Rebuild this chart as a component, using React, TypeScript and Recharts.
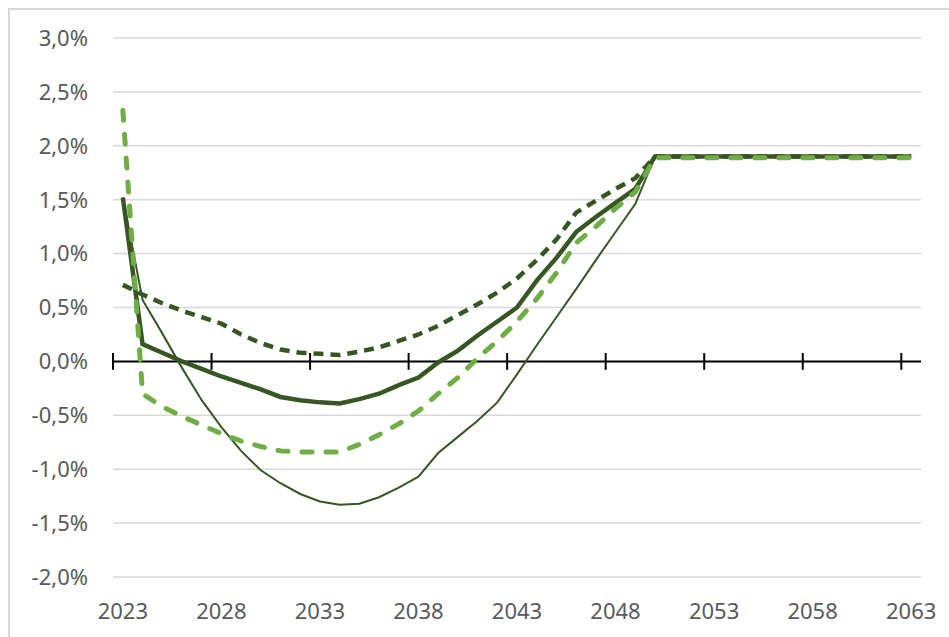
import { LineChart, Line, XAxis, YAxis, CartesianGrid, ReferenceLine } from 'recharts'

const years: number[] = []
for (let y = 2023; y <= 2063; y++) years.push(y)

// valeurs en % (2023 -> 2050), puis plateau jusqu'à 2063
const thickSolid = [1.52, 0.16, 0.08, 0.0, -0.07, -0.14, -0.2, -0.26, -0.33, -0.36, -0.38, -0.39, -0.35, -0.3, -0.22, -0.15, -0.01, 0.1, 0.24, 0.37, 0.5, 0.75, 0.96, 1.2, 1.34, 1.47, 1.6, 1.9, 1.9, 1.9, 1.9, 1.9, 1.9, 1.9, 1.9, 1.9, 1.9, 1.9, 1.9, 1.9, 1.9]
const thinSolid = [1.52, 0.57, 0.26, -0.06, -0.36, -0.61, -0.83, -1.01, -1.13, -1.23, -1.3, -1.33, -1.32, -1.26, -1.17, -1.07, -0.85, -0.7, -0.55, -0.38, -0.12, 0.15, 0.41, 0.67, 0.94, 1.2, 1.46, 1.9, 1.9, 1.9, 1.9, 1.9, 1.9, 1.9, 1.9, 1.9, 1.9, 1.9, 1.9, 1.9, 1.9]
const darkDashed = [0.71, 0.62, 0.54, 0.47, 0.41, 0.35, 0.25, 0.17, 0.11, 0.08, 0.07, 0.06, 0.09, 0.13, 0.19, 0.25, 0.33, 0.43, 0.53, 0.64, 0.77, 0.94, 1.13, 1.38, 1.49, 1.6, 1.7, 1.9, 1.9, 1.9, 1.9, 1.9, 1.9, 1.9, 1.9, 1.9, 1.9, 1.9, 1.9, 1.9, 1.9]
const lightDashed = [2.33, -0.3, -0.42, -0.51, -0.59, -0.67, -0.74, -0.79, -0.83, -0.84, -0.84, -0.84, -0.77, -0.68, -0.58, -0.46, -0.3, -0.15, 0.03, 0.19, 0.37, 0.58, 0.82, 1.1, 1.25, 1.42, 1.57, 1.89, 1.89, 1.89, 1.89, 1.89, 1.89, 1.89, 1.89, 1.89, 1.89, 1.89, 1.89, 1.89, 1.89]

const xLabels = [2023, 2028, 2033, 2038, 2043, 2048, 2053, 2058, 2063]
const axisTicks = [2022.5, 2027.5, 2032.5, 2037.5, 2042.5, 2047.5, 2052.5, 2057.5, 2062.5]
const yTicks = [-2, -1.5, -1, -0.5, 0, 0.5, 1, 1.5, 2, 2.5, 3]

const data = years.map((year, i) => ({
    year,
    a: thickSolid[i],
    b: thinSolid[i],
    c: darkDashed[i],
    d: lightDashed[i]
}))

const dark = '#375623'
const light = '#70ad47'
const tickFont = { fontFamily: '"Noto Sans", sans-serif', fontSize: 22, fill: '#595959' }

function App() {
    return (
        <div style={{ position: 'absolute', left: 0, top: 0, width: 949, height: 637, overflow: 'hidden', background: '#fff' }}>
            <div style={{ position: 'absolute', left: 8, top: 8, width: 980, height: 660, border: '2px solid #d9d9d9' }} />
            <LineChart width={949} height={637} data={data} margin={{ top: 38, right: 28, bottom: 0, left: 0 }}>
                <CartesianGrid vertical={false} stroke="#d9d9d9" strokeWidth={1.5} />
                <XAxis
                    dataKey="year"
                    type="number"
                    domain={[2022.5, 2063.5]}
                    ticks={xLabels}
                    interval={0}
                    height={60}
                    axisLine={false}
                    tickLine={false}
                    tickSize={0}
                    tickMargin={26}
                    tick={tickFont}
                />
                <YAxis
                    domain={[-2, 3]}
                    ticks={yTicks}
                    interval={0}
                    width={113}
                    axisLine={false}
                    tickLine={false}
                    tickSize={0}
                    tickMargin={25}
                    tick={tickFont}
                    tickFormatter={(v: number) => v.toFixed(1).replace('.', ',') + '%'}
                />
                <ReferenceLine y={0} stroke="#000" strokeWidth={2} />
                {axisTicks.map((t) => (
                    <ReferenceLine key={t} segment={[{ x: t, y: -0.078 }, { x: t, y: 0.078 }]} stroke="#000" strokeWidth={2} />
                ))}
                <Line dataKey="a" stroke={dark} strokeWidth={4.5} dot={false} isAnimationActive={false} />
                <Line dataKey="b" stroke={dark} strokeWidth={2} dot={false} isAnimationActive={false} />
                <Line dataKey="c" stroke={dark} strokeWidth={4.5} strokeDasharray="10 7" dot={false} isAnimationActive={false} />
                <Line dataKey="d" stroke={light} strokeWidth={5} strokeDasharray="10 14" strokeLinecap="round" dot={false} isAnimationActive={false} />
            </LineChart>
        </div>
    )
}

export default App
